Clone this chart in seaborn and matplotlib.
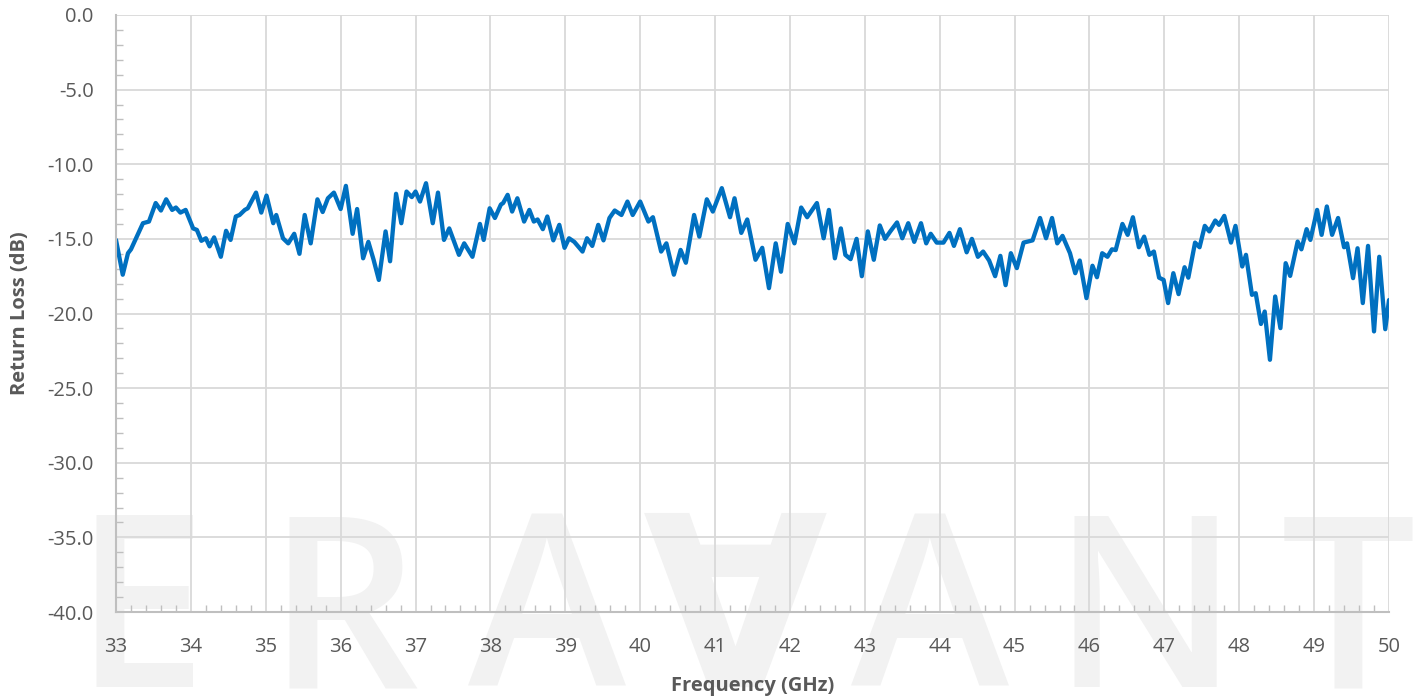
import numpy as np
import pandas as pd
import seaborn as sns
import matplotlib
matplotlib.use("Agg")
import matplotlib.pyplot as plt
from matplotlib.ticker import AutoMinorLocator, FixedLocator, FormatStrFormatter

freq_ghz = [
    33.00, 33.09, 33.16, 33.20, 33.36, 33.44, 33.53, 33.60, 33.67, 33.75, 33.80, 33.86, 33.93,
    34.03, 34.08, 34.14, 34.20, 34.25, 34.31, 34.40, 34.47, 34.53, 34.60, 34.65, 34.72, 34.76, 34.87, 34.94,
    35.01, 35.10, 35.14, 35.23, 35.30, 35.38, 35.45, 35.52, 35.60, 35.69, 35.76, 35.83, 35.91,
    36.00, 36.07, 36.16, 36.22, 36.30, 36.37, 36.44, 36.51, 36.60, 36.66, 36.74, 36.81, 36.88, 36.95,
    37.00, 37.06, 37.14, 37.23, 37.30, 37.38, 37.45, 37.58, 37.65, 37.76, 37.86, 37.91, 37.99,
    38.06, 38.14, 38.17, 38.23, 38.29, 38.36, 38.45, 38.52, 38.58, 38.63, 38.70, 38.76, 38.84, 38.92, 38.99,
    39.05, 39.12, 39.23, 39.29, 39.36, 39.44, 39.51, 39.59, 39.66, 39.75, 39.83, 39.90,
    40.00, 40.11, 40.17, 40.28, 40.35, 40.45, 40.54, 40.61, 40.72, 40.79, 40.89, 40.97,
    41.09, 41.20, 41.26, 41.35, 41.43, 41.54, 41.63, 41.72, 41.81, 41.88, 41.97,
    42.06, 42.15, 42.23, 42.36, 42.45, 42.52, 42.60, 42.68, 42.74, 42.81, 42.89, 42.96,
    43.04, 43.12, 43.20, 43.27, 43.34, 43.43, 43.50, 43.58, 43.66, 43.75, 43.82, 43.88, 43.96,
    44.05, 44.13, 44.19, 44.27, 44.36, 44.43, 44.51, 44.58, 44.66, 44.74, 44.81, 44.88, 44.95,
    45.03, 45.12, 45.24, 45.34, 45.42, 45.50, 45.57, 45.64, 45.74, 45.81, 45.87, 45.96,
    46.04, 46.10, 46.17, 46.24, 46.30, 46.35, 46.44, 46.51, 46.58, 46.66, 46.73, 46.80, 46.86, 46.93, 46.99,
    47.05, 47.12, 47.19, 47.27, 47.32, 47.41, 47.47, 47.54, 47.60, 47.68, 47.73, 47.80, 47.89, 47.95,
    48.04, 48.09, 48.17, 48.22, 48.29, 48.34, 48.41, 48.48, 48.55, 48.62, 48.68, 48.78, 48.83, 48.90, 48.95,
    49.04, 49.10, 49.17, 49.24, 49.32, 49.40, 49.44, 49.52, 49.58, 49.65, 49.72, 49.80, 49.87, 49.95, 50.00,
]

return_loss_db = [
    -15.07, -17.40, -15.96, -15.70, -13.95, -13.84, -12.60, -13.10, -12.35, -13.06, -12.90, -13.24, -13.06,
    -14.30, -14.40, -15.13, -14.96, -15.50, -14.90, -16.20, -14.46, -15.07, -13.50, -13.40, -13.06, -12.95, -11.90, -13.24,
    -12.10, -13.95, -13.40, -14.96, -15.30, -14.66, -16.00, -13.40, -15.30, -12.35, -13.20, -12.28, -11.90,
    -13.00, -11.45, -14.66, -13.00, -16.30, -15.20, -16.40, -17.75, -14.50, -16.50, -11.98, -13.95, -11.83, -12.20,
    -11.83, -12.50, -11.27, -13.95, -11.90, -15.07, -14.30, -16.07, -15.30, -16.20, -14.00, -15.07, -12.95,
    -13.60, -12.70, -12.60, -12.05, -13.17, -12.28, -13.84, -13.06, -13.84, -13.70, -14.35, -13.50, -15.10, -14.06, -15.60,
    -14.96, -15.20, -15.85, -14.96, -15.47, -14.06, -15.10, -13.60, -13.10, -13.40, -12.50, -13.40,
    -12.50, -13.84, -13.55, -15.85, -15.30, -17.40, -15.74, -16.60, -13.40, -14.85, -12.35, -13.17,
    -11.60, -13.55, -12.28, -14.60, -13.70, -16.40, -15.60, -18.30, -15.30, -17.20, -14.00,
    -15.30, -12.90, -13.55, -12.60, -14.96, -13.06, -16.30, -14.30, -16.07, -16.36, -15.00, -17.50,
    -14.50, -16.40, -14.10, -15.00, -14.50, -13.90, -14.96, -13.95, -15.20, -13.95, -15.30, -14.66, -15.25,
    -15.25, -14.60, -15.47, -14.35, -15.90, -15.00, -16.20, -15.85, -16.45, -17.50, -16.14, -18.10, -15.96,
    -16.96, -15.25, -15.10, -13.60, -14.96, -13.60, -15.30, -14.80, -15.96, -17.30, -16.45, -18.97,
    -16.80, -17.57, -15.96, -16.20, -15.70, -15.75, -14.00, -14.73, -13.55, -15.56, -14.85, -16.07, -15.85, -17.60, -17.75,
    -19.30, -17.30, -18.70, -16.90, -17.60, -15.25, -15.56, -14.13, -14.50, -13.77, -14.06, -13.46, -15.25, -14.13,
    -16.85, -16.07, -18.75, -18.64, -20.70, -19.87, -23.10, -18.86, -20.98, -16.63, -17.48, -15.18, -15.70, -14.35, -15.07,
    -13.06, -14.73, -12.83, -14.73, -13.60, -15.56, -15.30, -17.63, -15.63, -19.30, -15.47, -21.20, -16.20, -21.05, -19.10,
]

x_ticks = list(range(33, 51))
y_ticks = [0, -5, -10, -15, -20, -25, -30, -35, -40]

sns.set_theme(style="white")
plt.rcParams['font.family'] = ['Open Sans', 'DejaVu Sans']

W, H = 1418, 700
fig = plt.figure(figsize=(W / 100, H / 100), dpi=100)
fig.patch.set_facecolor('white')

# watermark
wm_letters = ["E", "R", "A", "\u2200", "A", "N", "T"]
wm_centers = [140, 343, 547, 735, 930, 1145, 1348]
for ch, cx in zip(wm_letters, wm_centers):
    fig.text(cx / W, 1 - 687 / H, ch, ha='center', va='baseline', fontsize=172,
             fontweight='semibold', color='#F2F2F2',
             family=['Open Sans', 'DejaVu Sans'], zorder=-5)

ax = fig.add_axes([116 / W, 1 - 612 / H, (1389 - 116) / W, (612 - 15) / H])
ax.set_facecolor('none')

df = pd.DataFrame({"Frequency (GHz)": freq_ghz, "Return Loss (dB)": return_loss_db})
sns.lineplot(data=df, x="Frequency (GHz)", y="Return Loss (dB)", ax=ax, color='#0070C0',
             linewidth=3.1, sort=False, estimator=None)
for ln in ax.get_lines():
    ln.set_solid_joinstyle('round')
    ln.set_solid_capstyle('round')

ax.set_xlim(33, 50)
ax.set_ylim(-40, 0)
ax.xaxis.set_major_locator(FixedLocator(x_ticks))
ax.yaxis.set_major_locator(FixedLocator(y_ticks))
ax.yaxis.set_major_formatter(FormatStrFormatter('%.1f'))
ax.xaxis.set_minor_locator(AutoMinorLocator(5))
ax.yaxis.set_minor_locator(AutoMinorLocator(5))

ax.grid(True, which='major', color='#D9D9D9', linewidth=1.3)
ax.set_axisbelow(True)
for s in ['top', 'right']:
    ax.spines[s].set_visible(False)
for s in ['left', 'bottom']:
    ax.spines[s].set_color('#BFBFBF')
    ax.spines[s].set_linewidth(1.5)

ax.tick_params(which='major', length=0, labelsize=14.5, labelcolor='#595959')
ax.tick_params(axis='x', which='major', pad=18)
ax.tick_params(axis='y', which='major', pad=16)
ax.tick_params(which='minor', length=5, width=1, color='#BFBFBF', direction='in',
               bottom=True, left=True)

ax.set_xlabel("Frequency (GHz)", fontsize=14.5, fontweight='bold', color='#595959')
ax.set_ylabel("Return Loss (dB)", fontsize=14.5, fontweight='bold', color='#595959')
ax.xaxis.set_label_coords(0.5, -(676 - 612) / 597)
ax.xaxis.label.set_va('top')
ax.yaxis.set_label_coords(-(116 - 30) / 1273, 0.5)

fig.savefig("out.png", dpi=100, facecolor='white')
